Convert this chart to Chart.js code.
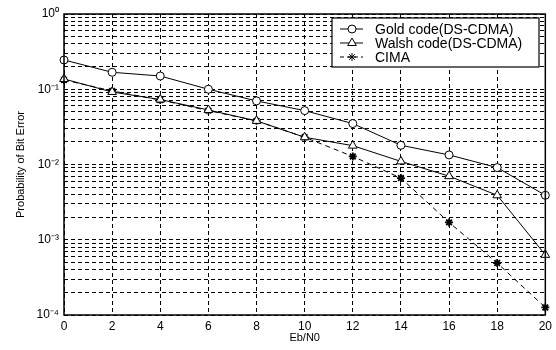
<!DOCTYPE html>
<html>
<head>
<meta charset="utf-8">
<script src="https://cdn.jsdelivr.net/npm/chart.js@4"></script>
<style>
  html, body { margin: 0; padding: 0; background: #fff; }
  #wrap { width: 556px; height: 350px; }
</style>
</head>
<body>
<div id="wrap"><canvas id="berChart"></canvas></div>
<script>
// Eb/N0 (dB) and bit error probabilities
const ebno = [0, 2, 4, 6, 8, 10, 12, 14, 16, 18, 20];
const goldBer = [0.245, 0.168, 0.15, 0.10, 0.070, 0.052, 0.035, 0.018, 0.0134, 0.0091, 0.0039];
const walshBer = [0.137, 0.092, 0.073, 0.053, 0.038, 0.023, 0.0178, 0.011, 0.0070, 0.0039, 0.00063];
const cimaBer = [0.133, 0.095, 0.072, 0.052, 0.038, 0.023, 0.0128, 0.0066, 0.0017, 0.00049, 0.000126];

const seriesNames = ['Gold code(DS-CDMA)', 'Walsh code(DS-CDMA)', 'CIMA'];
const xTicks = [0, 2, 4, 6, 8, 10, 12, 14, 16, 18, 20];
const yDecades = [1e-4, 1e-3, 1e-2, 1e-1, 1];
const yDecadeLabels = ['10\u207B\u2074', '10\u207B\u00B3', '10\u207B\u00B2', '10\u207B\u00B9', '10\u2070'];

const toPoints = (ys) => ebno.map((x, i) => ({ x: x, y: ys[i] }));

// 1..9 x 10^n for the dashed minor grid
const yGridValues = [];
yDecades.forEach((d, i) => {
    if (i === yDecades.length - 1) { yGridValues.push(d); return; }
    for (let m = 1; m <= 9; m++) yGridValues.push(m * d);
});

const FONT = '"Liberation Sans", Arial, sans-serif';
const gridOpts = { color: '#000', lineWidth: 1, drawTicks: false };

const frameAndLegend = {
    id: 'frameAndLegend',
    afterDraw(chart) {
        const { ctx, chartArea: a } = chart;
        ctx.save();
        ctx.strokeStyle = '#000';
        ctx.lineWidth = 1.5;
        ctx.setLineDash([]);
        ctx.strokeRect(a.left, a.top, a.right - a.left, a.bottom - a.top);

        // legend box, top right
        const bx = 332, by = 18, bw = 207, bh = 49;
        ctx.fillStyle = '#fff';
        ctx.fillRect(bx, by, bw, bh);
        ctx.lineWidth = 1.2;
        ctx.strokeRect(bx, by, bw, bh);
        ctx.font = '14px ' + FONT;
        ctx.textBaseline = 'middle';
        chart.data.datasets.forEach((ds, i) => {
            const y = by + 11 + i * 14;
            ctx.strokeStyle = '#000';
            ctx.lineWidth = 1;
            ctx.setLineDash(ds.borderDash ? [4, 3] : []);
            ctx.beginPath();
            ctx.moveTo(bx + 8, y);
            ctx.lineTo(bx + 31, y);
            ctx.stroke();
            ctx.setLineDash([]);
            ctx.fillStyle = ds.pointBackgroundColor;
            Chart.helpers.drawPoint(ctx, {
                pointStyle: ds.pointStyle, rotation: 0, radius: ds.pointRadius,
                borderWidth: ds.pointBorderWidth || 1
            }, bx + 20, y);
            ctx.fillStyle = '#000';
            ctx.fillText(ds.label, bx + 43, y + 1);
        });
        ctx.restore();
    }
};

new Chart(document.getElementById('berChart'), {
    type: 'line',
    data: {
        datasets: [
            {
                label: seriesNames[0],
                data: toPoints(goldBer),
                borderColor: '#000', borderWidth: 1,
                pointStyle: 'circle', pointRadius: 4,
                pointBackgroundColor: '#fff', pointBorderColor: '#000', pointBorderWidth: 1,
                clip: false
            },
            {
                label: seriesNames[1],
                data: toPoints(walshBer),
                borderColor: '#000', borderWidth: 1,
                pointStyle: 'triangle', pointRadius: 5,
                pointBackgroundColor: '#fff', pointBorderColor: '#000', pointBorderWidth: 1,
                clip: false
            },
            {
                label: seriesNames[2],
                data: toPoints(cimaBer),
                borderColor: '#000', borderWidth: 1, borderDash: [5, 4],
                pointStyle: 'star', pointRadius: 4,
                pointBackgroundColor: '#000', pointBorderColor: '#000', pointBorderWidth: 1.8,
                clip: false
            }
        ]
    },
    options: {
        responsive: true,
        maintainAspectRatio: false,
        animation: false,
        layout: { padding: { top: 14, right: 10, left: 0, bottom: 0 } },
        plugins: { legend: { display: false }, tooltip: { enabled: false } },
        scales: {
            x: {
                type: 'linear', min: 0, max: 20,
                afterBuildTicks: (s) => { s.ticks = xTicks.map(v => ({ value: v })); },
                afterFit: (s) => { s.height = 35; },
                ticks: {
                    autoSkip: false, color: '#000', padding: 4,
                    font: { family: FONT, size: 12 }
                },
                grid: gridOpts,
                border: { display: false, dash: [4, 3] },
                title: {
                    display: true, text: 'Eb/N0', color: '#000',
                    font: { family: FONT, size: 11 },
                    padding: { top: 0, bottom: 5 }
                }
            },
            y: {
                type: 'logarithmic', min: 1e-4, max: 1,
                afterBuildTicks: (s) => { s.ticks = yGridValues.map(v => ({ value: v })); },
                afterFit: (s) => { s.width = 64; },
                ticks: {
                    autoSkip: false, color: '#000', padding: 5,
                    font: { family: FONT, size: 12 },
                    callback: (v) => {
                        const k = yDecades.findIndex(d => Math.abs(d - v) / d < 1e-6);
                        return k >= 0 ? yDecadeLabels[k] : '';
                    }
                },
                grid: gridOpts,
                border: { display: false, dash: [4, 3] },
                title: {
                    display: true, text: 'Probability of Bit Error', color: '#000',
                    font: { family: FONT, size: 11 },
                    padding: { top: 14, bottom: 0 }
                }
            }
        }
    },
    plugins: [frameAndLegend]
});
</script>
</body>
</html>
